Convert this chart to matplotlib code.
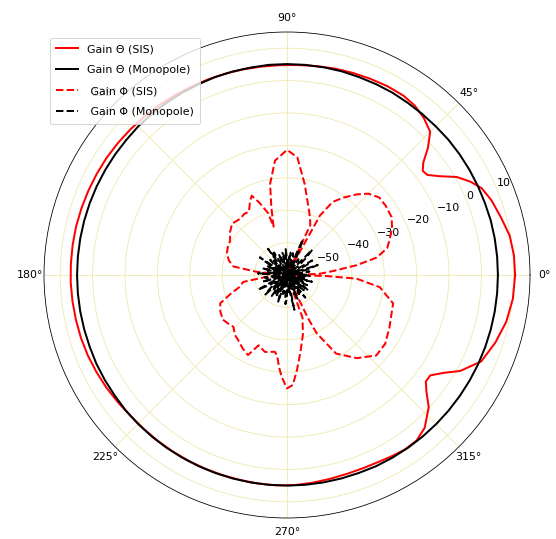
import numpy as np
import matplotlib
matplotlib.use("Agg")
import matplotlib.pyplot as plt

plt.rcParams["font.size"] = 11

# Gain Theta, SIS antenna (deg, dB)
theta_sis = [0, 5, 10, 15, 20, 24, 27, 30, 33, 35.5, 37.5, 39.5, 42, 45, 49, 53, 57, 62, 67, 72,
             77, 82, 87, 92, 97, 102, 107, 112, 117, 122, 127, 132, 137, 142, 147, 152, 157, 162,
             167, 172, 177, 182, 187, 192, 197, 202, 207, 212, 217, 222, 227, 232, 237, 242, 247,
             252, 257, 262, 267, 272, 277, 282, 287, 292, 297, 300, 304, 308, 312, 317, 320, 322.5,
             325, 328, 331, 336, 342, 348, 354, 360]
gain_theta_sis = [10.4, 10.3, 9.8, 8.4, 7.2, 5.8, 3.5, 0.5, -4.0, -6.8, -7.2, -5.5, -1.5, 2.5, 4.3,
                  5.5, 6.0, 6.0, 5.8, 5.6, 5.4, 5.1, 4.9, 4.8, 4.8, 4.9, 5.0, 5.1, 5.2, 5.4, 5.6,
                  5.8, 6.0, 6.2, 6.4, 6.5, 6.6, 6.7, 6.8, 6.8, 6.8, 6.8, 6.7, 6.6, 6.5, 6.3, 6.0,
                  5.7, 5.3, 5.0, 4.9, 4.9, 4.9, 4.9, 4.9, 4.9, 4.9, 5.0, 5.0, 4.9, 4.6, 4.3, 4.1,
                  4.1, 4.3, 4.6, 5.0, 4.9, 3.5, -0.2, -3.8, -6.0, -6.0, -3.0, 1.1, 5.6, 7.6, 9.2,
                  10.1, 10.4]

# Gain Theta, monopole (5 deg steps)
theta_mono = list(range(0, 361, 5))
gain_theta_mono = [5.1, 5.1, 5.1, 5.1, 5.0, 5.0, 5.0, 5.0, 5.0, 4.9, 4.9, 4.9, 5.0, 5.0, 5.0, 5.1,
                   5.1, 5.1, 5.1, 5.1, 5.0, 5.0, 5.0, 4.9, 4.9, 4.9, 4.9, 4.9, 4.8, 4.8, 4.8, 4.8,
                   4.8, 4.8, 4.8, 4.8, 4.8, 4.8, 4.8, 4.8, 4.8, 4.9, 4.9, 4.9, 5.0, 5.0, 5.0, 5.0,
                   5.0, 5.0, 5.0, 5.0, 5.0, 5.0, 5.0, 5.0, 5.0, 5.0, 5.0, 5.1, 5.1, 5.1, 5.1, 5.1,
                   5.1, 5.1, 5.1, 5.1, 5.1, 5.1, 5.1, 5.1, 5.1]

# Gain Phi, SIS antenna
theta_phi_sis = [0, 2, 5, 8, 11, 15, 19, 24, 29, 35, 40, 45, 49, 54, 58, 61, 63, 65, 68, 72.5, 79,
                 85, 90, 96, 100.5, 103, 105.5, 107, 111, 114, 117, 121, 125, 130, 137, 143, 149, 155,
                 160, 166, 171, 174, 177, 183, 189, 194, 198, 203, 209, 215, 220, 224, 229, 233, 239,
                 244, 248, 254, 261, 263, 265, 267, 270, 273, 276, 280, 285, 290, 294, 296, 297, 302,
                 310, 318, 325, 333, 345, 352.5, 357, 358.5, 360]
gain_phi_sis = [-60, -50, -45.6, -38.3, -31.8, -28, -26.5, -24.5, -23.1, -22.8, -22.8, -24.5, -27,
                -30.5, -33.4, -39, -60, -43, -41, -38, -31.4, -23.5, -21.4, -24.5, -31.4, -38.5,
                -44.5, -40, -36, -33.2, -34.8, -37.2, -37.0, -37.4, -36.8, -38, -39.5, -39.8, -40.3,
                -41.5, -43.3, -50.6, -60, -55, -46.3, -45, -42, -37.6, -36.5, -35.9, -36.5, -37,
                -35.5, -34.9, -33.5, -32.5, -36.6, -35.3, -36, -35, -31.6, -28.5, -25, -26, -30.5,
                -36, -41, -46, -60, -45, -39.8, -31.4, -26.5, -22.9, -23.0, -24.5, -26.1, -31.1,
                -38.5, -48, -60]

# Gain Phi, monopole (3 deg steps)
theta_phi_mono = list(range(0, 360, 3))
gain_phi_mono = [-54, -59, -55, -53, -60, -54, -50, -58, -57, -53, -51, -59, -58, -55, -52, -49,
                 -59, -55, -54, -60, -56, -52, -48, -58, -54, -53, -60, -53, -55, -59, -55, -52,
                 -59, -54, -53, -60, -56, -53, -58, -57, -52, -54, -50, -59, -54, -58, -53, -55,
                 -60, -50, -54, -57, -53, -59, -55, -52, -60, -54, -55, -51, -58, -58, -53, -54,
                 -60, -52, -56, -59, -55, -50, -54, -59, -55, -53, -51, -60, -54, -58, -52, -53,
                 -59, -53, -57, -54, -51, -60, -54, -59, -55, -51, -53, -60, -54, -55, -49, -58,
                 -58, -54, -52, -60, -54, -53, -57, -51, -59, -55, -53, -58, -52, -54, -60, -53,
                 -54, -59, -55, -52, -60, -54, -57, -53]

fig = plt.figure(figsize=(556 / 72, 539 / 72), dpi=72)
ax = fig.add_axes([44 / 556, 21 / 539, 486 / 556, 486 / 539], projection="polar")

ax.plot(np.radians(theta_sis), gain_theta_sis, color="red", lw=2, label="Gain Θ (SIS)")
ax.plot(np.radians(theta_mono), gain_theta_mono, color="black", lw=2, label="Gain Θ (Monopole)")
ax.plot(np.radians(theta_phi_sis), gain_phi_sis, color="red", lw=2, ls="--", label=" Gain Φ (SIS)")
ax.plot(np.radians(theta_phi_mono + [360]), gain_phi_mono + gain_phi_mono[:1], color="black",
        lw=2, ls="--", label=" Gain Φ (Monopole)")

ax.set_ylim(-60, 15)
ax.set_yticks([-50, -40, -30, -20, -10, 0, 10])
ax.grid(True, color="#eee8aa", lw=0.8)
ax.legend(loc="upper left", labelspacing=1.0, borderpad=0.6)

fig.savefig("out.png", dpi=72)
